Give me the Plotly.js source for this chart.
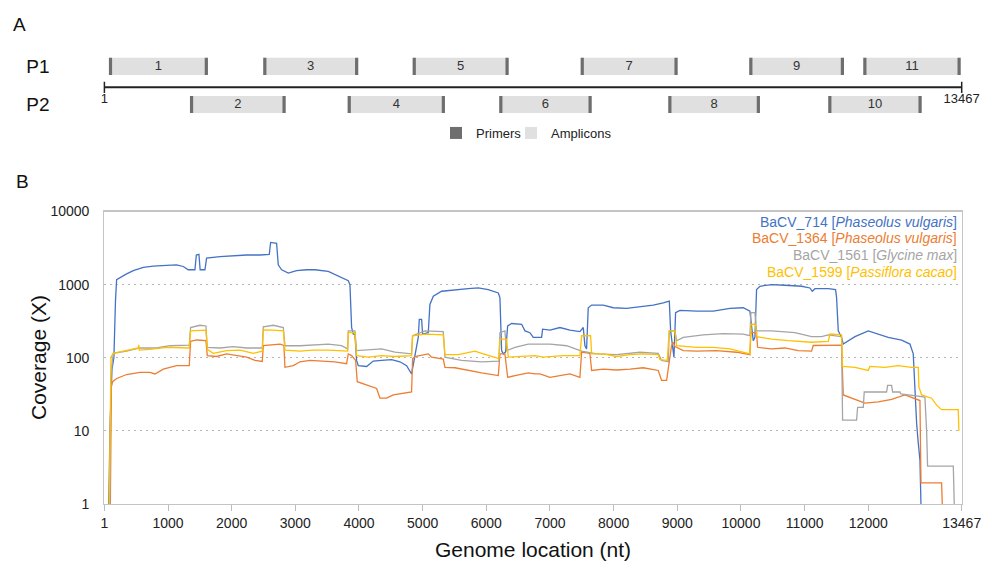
<!DOCTYPE html>
<html><head><meta charset="utf-8">
<script src="https://cdn.plot.ly/plotly-3.0.1.min.js"></script>
<style>html,body{margin:0;padding:0;background:#fff}#chart{width:982px;height:565px}</style>
</head><body><div id="chart"></div>
<script>
// ---------- Panel A: amplicon map ----------
const genomeLength = 13467;
const ampliconIds   = ['1','2','3','4','5','6','7','8','9','10','11'];
const ampliconPool  = ['P1','P2','P1','P2','P1','P2','P1','P2','P1','P2','P1'];
const ampliconStart = [72, 1345, 2496, 3822, 4843, 6203, 7482, 8858, 10130, 11371, 11921];
const ampliconEnd   = [1627, 2848, 3988, 5350, 6351, 7655, 9005, 10298, 11618, 12838, 13451];
const primerLength  = 50;

// ---------- Panel B: coverage ----------
const seriesNames = ['BaCV_714', 'BaCV_1364', 'BaCV_1561', 'BaCV_1599'];
const seriesHosts = ['Phaseolus vulgaris', 'Phaseolus vulgaris', 'Glycine max', 'Passiflora cacao'];

const pos714 = [70, 90, 120, 150, 175, 193, 350, 455, 612, 769,
 978, 1135, 1240, 1318, 1423, 1445, 1486, 1505, 1580, 1606,
 1816, 2025, 2235, 2444, 2591, 2612, 2706, 2732, 2785, 2889,
 3020, 3177, 3308, 3517, 3675, 3832, 3858, 3884, 3910, 3936,
 3962, 3989, 4120, 4224, 4355, 4512, 4643, 4748, 4826, 4879,
 4931, 4947, 4984, 4999, 5088, 5114, 5167, 5298, 5507, 5717,
 5874, 6030, 6188, 6214, 6240, 6266, 6303, 6335, 6397, 6555,
 6607, 6685, 6737, 6868, 6884, 7000, 7156, 7313, 7470, 7523,
 7549, 7575, 7601, 7654, 7837, 7994, 8203, 8413, 8622, 8779,
 8874, 8895, 8926, 8947, 8973, 9041, 9303, 9565, 9827, 10036,
 10140, 10167, 10193, 10219, 10245, 10298, 10481, 10690, 10952, 11083,
 11120, 11162, 11371, 11486, 11502, 11528, 11580, 11607, 11790, 11999,
 12156, 12313, 12523, 12654, 12706, 12722, 12743, 12759, 12785, 12811,
 12827];
const cov714 = [1, 12, 70, 100, 600, 1169, 1400, 1550, 1720, 1790,
 1830, 1867, 1770, 1597, 1597, 2540, 2590, 1597, 1597, 2300,
 2420, 2500, 2540, 2540, 2590, 3780, 3660, 1867, 1597, 1440,
 1550, 1597, 1597, 1515, 1297, 1133, 1000, 259, 211, 211,
 92, 78, 76, 90, 92, 94, 88, 78, 60, 102,
 190, 335, 335, 211, 220, 535, 695, 812, 855, 880,
 900, 855, 770, 659, 125, 113, 120, 272, 294, 287,
 233, 220, 190, 190, 246, 238, 259, 238, 228, 259,
 146, 132, 483, 525, 525, 483, 473, 494, 525, 565,
 595, 233, 125, 102, 413, 445, 435, 435, 473, 483,
 435, 259, 171, 190, 855, 950, 1000, 980, 950, 900,
 810, 880, 880, 855, 659, 233, 190, 154, 194, 233,
 211, 190, 174, 154, 113, 49, 19, 12.6, 6.8, 4,
 1];

const pos1364 = [95, 110, 130, 193, 350, 559, 716, 795, 926, 1135,
 1334, 1355, 1450, 1596, 1617, 1764, 1921, 2078, 2235, 2366,
 2481, 2497, 2601, 2759, 2821, 2837, 2968, 3073, 3230, 3387,
 3465, 3622, 3805, 3832, 3884, 3947, 3973, 4093, 4198, 4277,
 4329, 4434, 4539, 4669, 4826, 4842, 4879, 5088, 5141, 5324,
 5350, 5507, 5717, 5926, 6188, 6214, 6292, 6335, 6450, 6659,
 6764, 6842, 7000, 7156, 7313, 7470, 7497, 7627, 7654, 7837,
 8046, 8256, 8465, 8701, 8753, 8832, 8874, 8910, 8937, 8963,
 9094, 9303, 9617, 9931, 10140, 10156, 10245, 10261, 10481, 10690,
 10900, 11109, 11135, 11371, 11580, 11607, 11738, 11842, 11947, 12156,
 12366, 12575, 12706, 12811, 12827, 13151, 13162];
const cov1364 = [1, 40, 47, 52, 59, 63, 63, 60, 70, 78,
 78, 168, 175, 171, 107, 104, 113, 107, 102, 92,
 89, 147, 150, 154, 147, 74, 78, 88, 92, 90,
 88, 88, 83, 113, 107, 92, 47, 43, 40, 38,
 28, 28, 31, 32, 34, 97, 104, 113, 102, 96,
 74, 73, 67, 62, 57, 113, 113, 54, 57, 62,
 60, 60, 54, 57, 60, 54, 119, 115, 67, 70,
 68, 70, 73, 67, 49, 49, 92, 147, 162, 142,
 125, 123, 125, 119, 110, 220, 220, 139, 132, 136,
 125, 123, 147, 147, 149, 31, 28, 26, 24, 25,
 27, 31, 28, 26, 1.95, 1.95, 1];

const pos1561 = [85, 105, 140, 350, 559, 821, 1030, 1334, 1355, 1502,
 1596, 1617, 1816, 2025, 2235, 2481, 2497, 2654, 2811, 2837,
 3073, 3282, 3517, 3727, 3822, 3832, 3936, 3962, 4146, 4355,
 4565, 4826, 4842, 5036, 5324, 5350, 5612, 5926, 6198, 6214,
 6292, 6318, 6450, 6659, 7000, 7261, 7497, 7732, 8046, 8413,
 8701, 8753, 8858, 8874, 8963, 8989, 9094, 9408, 9722, 10036,
 10140, 10156, 10219, 10245, 10481, 10847, 11109, 11266, 11371, 11580,
 11596, 11816, 11832, 11921, 11936, 12287, 12303, 12366, 12382, 12497,
 12512, 12889, 12916, 12931, 13335, 13350];
const cov1561 = [1, 60, 115, 123, 136, 136, 146, 149, 259, 278,
 272, 139, 136, 142, 136, 136, 264, 278, 259, 146,
 146, 150, 154, 146, 132, 233, 233, 125, 127, 132,
 119, 113, 200, 233, 228, 102, 92, 88, 90, 220,
 233, 125, 139, 154, 154, 146, 123, 113, 110, 119,
 115, 92, 88, 233, 233, 171, 190, 206, 214, 211,
 200, 415, 415, 233, 233, 220, 194, 194, 206, 194,
 14, 14, 21, 21, 34, 34, 42, 42, 34, 34,
 32, 29, 10, 3.3, 3.3, 1];

const pos1599 = [78, 104, 140, 350, 533, 541, 549, 716, 978, 1334,
 1355, 1596, 1617, 1711, 1921, 2130, 2339, 2481, 2497, 2654,
 2811, 2837, 3073, 3282, 3517, 3822, 3832, 3936, 3962, 4146,
 4355, 4565, 4826, 4842, 5036, 5324, 5350, 5559, 5822, 5926,
 6198, 6214, 6318, 6345, 6555, 6764, 6894, 7209, 7470, 7497,
 7638, 7654, 7837, 8046, 8256, 8465, 8701, 8727, 8842, 8874,
 8963, 8989, 9303, 9565, 9827, 10088, 10140, 10156, 10230, 10245,
 10481, 10743, 11109, 11371, 11397, 11580, 11596, 11790, 11999, 12025,
 12261, 12471, 12680, 12785, 12795, 12837, 12994, 13073, 13151, 13413,
 13423];
const cov1599 = [1, 102, 115, 125, 136, 150, 127, 130, 139, 136,
 233, 238, 130, 115, 125, 127, 115, 123, 240, 238,
 233, 127, 123, 127, 127, 123, 220, 220, 107, 102,
 107, 104, 107, 200, 211, 206, 110, 110, 123, 115,
 97, 180, 180, 102, 104, 107, 102, 107, 107, 200,
 200, 113, 113, 104, 110, 113, 110, 94, 92, 233,
 233, 146, 139, 139, 132, 115, 113, 287, 287, 194,
 180, 171, 163, 167, 211, 206, 76, 74, 67, 76,
 74, 78, 74, 74, 40, 31, 28, 22.5, 19.5, 19.5,
 10];

const xTickVals = [1, 1000, 2000, 3000, 4000, 5000, 6000, 7000, 8000, 9000, 10000, 11000, 12000, 13467];
const yTickVals = [1, 10, 100, 1000, 10000];

// ---------- build ----------
const FONT = 'Liberation Sans, Arial, Helvetica, sans-serif';
const W = 982, H = 565;
const colors = ['#4472C4', '#ED7D31', '#A5A5A5', '#FFC000'];
const positions = [pos714, pos1364, pos1561, pos1599];
const coverages = [cov714, cov1364, cov1561, cov1599];

const poolRow = p => (p === 'P1' ? 1 : 0);
const rows = ampliconPool.map(poolRow);
const traces = [];

// primers (bars at each amplicon end)
const pBase = [], pLen = [], pRow = [];
ampliconStart.forEach((s, i) => {
  pBase.push(s); pLen.push(primerLength); pRow.push(rows[i]);
  pBase.push(ampliconEnd[i] - primerLength); pLen.push(primerLength); pRow.push(rows[i]);
});

traces.push({
  type: 'bar', orientation: 'h', name: 'Amplicons',
  base: ampliconStart, x: ampliconEnd.map((e, i) => e - ampliconStart[i]), y: rows,
  width: 0.45, marker: {color: '#e0e0e0', line: {width: 0}},
  xaxis: 'x2', yaxis: 'y2', hoverinfo: 'skip', legend: 'legend2'
});
traces.push({
  type: 'bar', orientation: 'h', name: 'Primers',
  base: pBase, x: pLen, y: pRow,
  width: 0.45, marker: {color: '#6e6e6e', line: {width: 0}},
  xaxis: 'x2', yaxis: 'y2', hoverinfo: 'skip', legend: 'legend'
});
traces.push({
  type: 'scatter', mode: 'text', showlegend: false,
  x: ampliconStart.map((s, i) => (s + ampliconEnd[i]) / 2), y: rows, text: ampliconIds,
  textfont: {family: FONT, size: 13, color: '#333'},
  xaxis: 'x2', yaxis: 'y2', hoverinfo: 'skip'
});
const lineY = 0.45;
traces.push({
  type: 'scatter', mode: 'lines+markers+text', showlegend: false,
  x: [1, genomeLength], y: [lineY, lineY], text: ['1', String(genomeLength)],
  textposition: 'bottom center', textfont: {family: FONT, size: 13, color: '#222'},
  line: {color: '#222', width: 2},
  marker: {symbol: 'line-ns-open', size: 8, line: {color: '#222', width: 1.5}},
  xaxis: 'x2', yaxis: 'y2', hoverinfo: 'skip', cliponaxis: false
});

positions.forEach((p, i) => {
  traces.push({
    type: 'scatter', mode: 'lines', showlegend: false, name: seriesNames[i],
    x: p, y: coverages[i], line: {color: colors[i], width: 1.3},
    xaxis: 'x', yaxis: 'y'
  });
});

const xDom = [104.4 / W, 961.7 / W];
const annotations = [
  {text: 'A', x: 11 / W, y: 1 - 25 / H, xanchor: 'left', yanchor: 'middle', font: {size: 19}},
  {text: 'B', x: 14 / W, y: 1 - 181 / H, xanchor: 'left', yanchor: 'middle', font: {size: 19}},
  {text: 'Coverage (X)', x: 38 / W, y: 1 - 358 / H, textangle: -90, xanchor: 'center', yanchor: 'middle', font: {size: 21}},
  {text: 'Genome location (nt)', x: 533 / W, y: 1 - 549 / H, xanchor: 'center', yanchor: 'middle', font: {size: 21}}
];
const legY = [221.7, 238.4, 255.2, 271.9];
seriesNames.forEach((n, i) => {
  annotations.push({
    text: n + ' [<i>' + seriesHosts[i] + '</i>]', x: 959 / W, y: 1 - legY[i] / H,
    xanchor: 'right', yanchor: 'middle', font: {size: 14, color: colors[i]}
  });
});
annotations.forEach(a => {
  a.xref = 'paper'; a.yref = 'paper'; a.showarrow = false;
  a.font = Object.assign({family: FONT, color: '#111'}, a.font);
});

const layout = {
  width: W, height: H,
  margin: {l: 0, r: 0, t: 0, b: 0, pad: 0},
  paper_bgcolor: '#fff', plot_bgcolor: 'rgba(0,0,0,0)',
  font: {family: FONT, color: '#222'},
  barmode: 'overlay',
  showlegend: true,
  xaxis: {
    domain: xDom, range: [1, genomeLength], anchor: 'y',
    tickmode: 'array', tickvals: xTickVals, ticktext: xTickVals.map(String),
    ticks: 'outside', ticklen: 6, tickwidth: 1, tickcolor: '#bdbdbd',
    showline: true, mirror: true, linecolor: '#c4c4c4', linewidth: 1.2,
    showgrid: false, zeroline: false,
    tickfont: {family: FONT, size: 14, color: '#222'}
  },
  yaxis: {
    domain: [(H - 504) / H, (H - 211.5) / H], type: 'log', range: [0, 4], anchor: 'x',
    tickmode: 'array', tickvals: yTickVals, ticktext: yTickVals.map(String),
    ticks: 'outside', ticklen: 11, tickcolor: 'rgba(0,0,0,0)',
    showline: true, mirror: true, linecolor: '#c4c4c4', linewidth: 1.2,
    showgrid: true, gridcolor: '#b5b5b5', gridwidth: 1, griddash: '2px,4px',
    zeroline: false,
    tickfont: {family: FONT, size: 14, color: '#222'}
  },
  xaxis2: {domain: xDom, range: [1, genomeLength], anchor: 'y2', visible: false, fixedrange: true},
  yaxis2: {
    domain: [(H - 123.55) / H, (H - 47.35) / H], range: [-0.5, 1.5], anchor: 'x2',
    tickmode: 'array', tickvals: [1, 0], ticktext: ['P1', 'P2'],
    ticks: 'outside', ticklen: 50, tickcolor: 'rgba(0,0,0,0)',
    showline: false, showgrid: false, zeroline: false,
    tickfont: {family: FONT, size: 19, color: '#111'}
  },
  legend: {
    x: 436 / W, xanchor: 'left', y: 1 - 118 / H, yanchor: 'top', orientation: 'h',
    bgcolor: 'rgba(0,0,0,0)', font: {family: FONT, size: 13, color: '#222'}
  },
  legend2: {
    x: 511 / W, xanchor: 'left', y: 1 - 118 / H, yanchor: 'top', orientation: 'h',
    bgcolor: 'rgba(0,0,0,0)', font: {family: FONT, size: 13, color: '#222'}
  },
  annotations: annotations
};

Plotly.newPlot('chart', traces, layout, {displayModeBar: false, staticPlot: true});
</script>
</body></html>
